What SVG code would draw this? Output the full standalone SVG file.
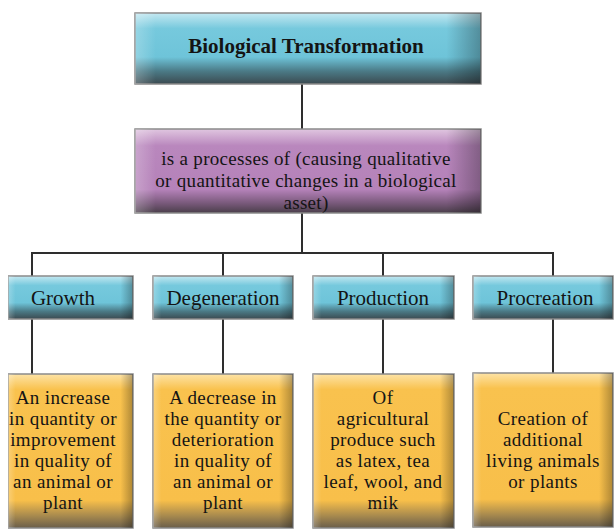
<svg xmlns="http://www.w3.org/2000/svg" width="614" height="529" viewBox="0 0 614 529">
<defs>
<linearGradient id="gBlue" x1="0" y1="0" x2="0" y2="1">
<stop offset="0" stop-color="#c4e8f1"/>
<stop offset="0.22" stop-color="#76c9dd"/>
<stop offset="0.62" stop-color="#6ec4d9"/>
<stop offset="0.82" stop-color="#4b7a86"/>
<stop offset="1" stop-color="#3b4a50"/>
</linearGradient>
<linearGradient id="gPurple" x1="0" y1="0" x2="0" y2="1">
<stop offset="0" stop-color="#e0c6e0"/>
<stop offset="0.2" stop-color="#b987bd"/>
<stop offset="0.72" stop-color="#b582b9"/>
<stop offset="0.88" stop-color="#7a5a7c"/>
<stop offset="1" stop-color="#4a3e4a"/>
</linearGradient>
<linearGradient id="gOrange" x1="0" y1="0" x2="0" y2="1">
<stop offset="0" stop-color="#fde3a6"/>
<stop offset="0.1" stop-color="#f9c24e"/>
<stop offset="0.82" stop-color="#f8bf4a"/>
<stop offset="0.92" stop-color="#a88a4e"/>
<stop offset="1" stop-color="#6a5e4a"/>
</linearGradient>
<linearGradient id="gSide" x1="0" y1="0" x2="1" y2="0">
<stop offset="0" stop-color="#ffffff" stop-opacity="0.25"/>
<stop offset="0.06" stop-color="#ffffff" stop-opacity="0"/>
<stop offset="0.9" stop-color="#000000" stop-opacity="0"/>
<stop offset="1" stop-color="#000000" stop-opacity="0.3"/>
</linearGradient>
<clipPath id="clipLeft"><rect x="8" y="0" width="606" height="529"/></clipPath>
</defs>
<style>
.box{stroke:#8a8a8a;stroke-width:1.5}
.side{stroke:none}
.t{font-family:"Liberation Serif","Times New Roman",serif;fill:#141414;text-anchor:middle}
.tb{font-weight:bold;font-size:21px}
.tm{font-size:19px;letter-spacing:0.3px}
.tl{font-size:21px}
.td{font-size:19px;letter-spacing:0.4px}
.conn{stroke:#2e2e2e;stroke-width:2;fill:none}
</style>

<g id="connectors">
<path class="conn" d="M302 84 V129"/>
<path class="conn" d="M302 213 V253"/>
<path class="conn" d="M32 276 V253 H553 V276"/>
<path class="conn" d="M223 253 V276"/>
<path class="conn" d="M383 253 V276"/>
<path class="conn" d="M32 319 V374"/>
<path class="conn" d="M223 319 V374"/>
<path class="conn" d="M383 319 V374"/>
<path class="conn" d="M553 319 V374"/>
</g>

<g id="node-biological-transformation">
<rect class="box" x="135" y="13" width="346" height="71" fill="url(#gBlue)"/>
<rect class="side" x="135" y="13" width="346" height="71" fill="url(#gSide)"/>
<text class="t tb" x="306" y="53">Biological Transformation</text>
</g>

<g id="node-definition">
<rect class="box" x="135" y="129" width="346" height="84" fill="url(#gPurple)"/>
<rect class="side" x="135" y="129" width="346" height="84" fill="url(#gSide)"/>
<text class="t tm" x="306" y="165">is a processes of (causing qualitative</text>
<text class="t tm" x="306" y="187">or quantitative changes in a biological</text>
<text class="t tm" x="306" y="208.5">asset)</text>
</g>

<g id="node-growth" clip-path="url(#clipLeft)">
<rect class="box" x="8" y="276" width="125" height="43" fill="url(#gBlue)"/>
<rect class="side" x="8" y="276" width="125" height="43" fill="url(#gSide)"/>
<text class="t tl" x="63" y="305">Growth</text>
</g>

<g id="node-degeneration">
<rect class="box" x="153" y="276" width="140" height="43" fill="url(#gBlue)"/>
<rect class="side" x="153" y="276" width="140" height="43" fill="url(#gSide)"/>
<text class="t tl" x="223" y="305">Degeneration</text>
</g>

<g id="node-production">
<rect class="box" x="313" y="276" width="141" height="43" fill="url(#gBlue)"/>
<rect class="side" x="313" y="276" width="141" height="43" fill="url(#gSide)"/>
<text class="t tl" x="383" y="305">Production</text>
</g>

<g id="node-procreation">
<rect class="box" x="473" y="276" width="140" height="43" fill="url(#gBlue)"/>
<rect class="side" x="473" y="276" width="140" height="43" fill="url(#gSide)"/>
<text class="t tl" x="545" y="305">Procreation</text>
</g>

<g id="node-growth-desc" clip-path="url(#clipLeft)">
<rect class="box" x="8" y="374" width="125" height="154" fill="url(#gOrange)"/>
<rect class="side" x="8" y="374" width="125" height="154" fill="url(#gSide)"/>
<text class="t td" x="63" y="404">An increase</text>
<text class="t td" x="63" y="425">in quantity or</text>
<text class="t td" x="63" y="446">improvement</text>
<text class="t td" x="63" y="467">in quality of</text>
<text class="t td" x="63" y="488">an animal or</text>
<text class="t td" x="63" y="509">plant</text>
</g>

<g id="node-degeneration-desc">
<rect class="box" x="153" y="374" width="140" height="154" fill="url(#gOrange)"/>
<rect class="side" x="153" y="374" width="140" height="154" fill="url(#gSide)"/>
<text class="t td" x="223" y="404">A decrease in</text>
<text class="t td" x="223" y="425">the quantity or</text>
<text class="t td" x="223" y="446">deterioration</text>
<text class="t td" x="223" y="467">in quality of</text>
<text class="t td" x="223" y="488">an animal or</text>
<text class="t td" x="223" y="509">plant</text>
</g>

<g id="node-production-desc">
<rect class="box" x="313" y="374" width="141" height="154" fill="url(#gOrange)"/>
<rect class="side" x="313" y="374" width="141" height="154" fill="url(#gSide)"/>
<text class="t td" x="383" y="404">Of</text>
<text class="t td" x="383" y="425">agricultural</text>
<text class="t td" x="383" y="446">produce such</text>
<text class="t td" x="383" y="467">as latex, tea</text>
<text class="t td" x="383" y="488">leaf, wool, and</text>
<text class="t td" x="383" y="509">mik</text>
</g>

<g id="node-procreation-desc">
<rect class="box" x="473" y="373" width="140" height="154" fill="url(#gOrange)"/>
<rect class="side" x="473" y="373" width="140" height="154" fill="url(#gSide)"/>
<text class="t td" x="543" y="425">Creation of</text>
<text class="t td" x="543" y="446">additional</text>
<text class="t td" x="543" y="467">living animals</text>
<text class="t td" x="543" y="488">or plants</text>
</g>
</svg>
